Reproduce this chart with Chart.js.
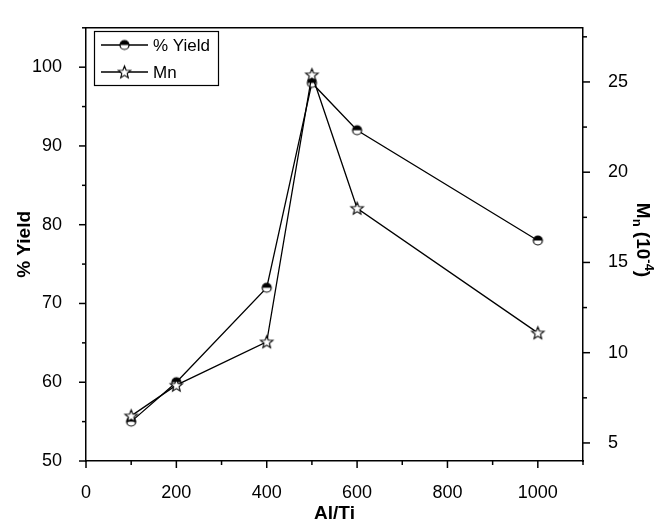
<!DOCTYPE html>
<html><head><meta charset="utf-8">
<script src="https://cdn.jsdelivr.net/npm/chart.js@4/dist/chart.umd.min.js"></script>
<style>html,body{margin:0;padding:0;background:#fff;} #wrap{width:659px;height:524px;position:relative}</style>
</head><body><div id="wrap"><canvas id="c" width="659" height="524"></canvas></div>
<script>
// ---- data ----
const alTi = [100, 200, 400, 500, 600, 1000];
const yieldPct = [55, 60, 72, 98, 92, 78];
const mn = [6.5, 8.2, 10.6, 25.4, 18, 11.1];
// ---- tick labels ----
const xTicks = [0, 200, 400, 600, 800, 1000];
const xMinor = [100, 300, 500, 700, 900, 1100];
const yTicks = [50, 60, 70, 80, 90, 100];
const yMinor = [55, 65, 75, 85, 95, 105];
const y2Ticks = [5, 10, 15, 20, 25];
const y2Minor = [7.5, 12.5, 17.5, 22.5, 27.5];

const FONT = '"Liberation Sans", Arial, Helvetica, sans-serif';

function makeHalfCircle(r) {
  const s = Math.ceil(2 * r + 4);
  const cv = document.createElement('canvas');
  cv.width = s; cv.height = s;
  const c = cv.getContext('2d');
  const cx = s / 2, cy = s / 2;
  c.beginPath(); c.arc(cx, cy, r, 0, 2 * Math.PI); c.fillStyle = '#fff'; c.fill();
  c.beginPath(); c.arc(cx, cy, r, Math.PI, 2 * Math.PI); c.closePath(); c.fillStyle = '#000'; c.fill();
  c.beginPath(); c.arc(cx, cy, r, 0, 2 * Math.PI); c.lineWidth = 1.2; c.strokeStyle = '#000'; c.stroke();
  return cv;
}
function makeStar(R, r) {
  const s = Math.ceil(2 * R + 4);
  const cv = document.createElement('canvas');
  cv.width = s; cv.height = s;
  const c = cv.getContext('2d');
  const cx = s / 2, cy = s / 2 + 0.5;
  c.beginPath();
  for (let i = 0; i < 10; i++) {
    const a = -Math.PI / 2 + i * Math.PI / 5;
    const rr = i % 2 === 0 ? R : r;
    const px = cx + rr * Math.cos(a), py = cy + rr * Math.sin(a);
    if (i === 0) c.moveTo(px, py); else c.lineTo(px, py);
  }
  c.closePath();
  c.fillStyle = '#fff'; c.fill();
  c.lineWidth = 1.1; c.strokeStyle = '#000'; c.stroke();
  return cv;
}
const circleImg = makeHalfCircle(4.5);
const starImg = makeStar(6.5, 2.8);

const decor = {
  id: 'decor',
  afterDraw(chart) {
    const ctx = chart.ctx;
    const {left, right, top, bottom} = chart.chartArea;
    const sx = chart.scales.x, sy = chart.scales.y, sy2 = chart.scales.y2;
    ctx.save();
    ctx.strokeStyle = '#000';
    ctx.lineWidth = 1.5;
    ctx.beginPath(); ctx.moveTo(left, top); ctx.lineTo(right, top); ctx.stroke();
    const tick = (x1, y1, x2, y2) => { ctx.beginPath(); ctx.moveTo(x1, y1); ctx.lineTo(x2, y2); ctx.stroke(); };
    xTicks.forEach(v => { const p = sx.getPixelForValue(v); tick(p, bottom, p, bottom + 7); });
    xMinor.forEach(v => { const p = sx.getPixelForValue(v); tick(p, bottom, p, bottom + 4); });
    yTicks.forEach(v => { const p = sy.getPixelForValue(v); tick(left, p, left - 7, p); });
    yMinor.forEach(v => { const p = sy.getPixelForValue(v); tick(left, p, left - 4, p); });
    y2Ticks.forEach(v => { const p = sy2.getPixelForValue(v); tick(right, p, right + 7, p); });
    y2Minor.forEach(v => { const p = sy2.getPixelForValue(v); tick(right, p, right + 4, p); });

    ctx.fillStyle = '#000';
    ctx.font = 'bold 19px ' + FONT;
    ctx.textAlign = 'center'; ctx.textBaseline = 'middle';
    ctx.fillText('Al/Ti', (left + right) / 2, 514);
    ctx.save();
    ctx.translate(25, (top + bottom) / 2); ctx.rotate(-Math.PI / 2);
    ctx.fillText('% Yield', 0, 0);
    ctx.restore();
    ctx.save();
    ctx.translate(642, 240); ctx.rotate(Math.PI / 2);
    const parts = [
      {t: 'M', f: 'bold 19px ', dy: 0},
      {t: 'n', f: 'bold 13px ', dy: 5},
      {t: ' (10', f: 'bold 19px ', dy: 0},
      {t: '-4', f: 'bold 13px ', dy: -7},
      {t: ')', f: 'bold 19px ', dy: 0}
    ];
    let total = 0;
    parts.forEach(p => { ctx.font = p.f + FONT; p.w = ctx.measureText(p.t).width; total += p.w; });
    let cx = -total / 2;
    ctx.textAlign = 'left';
    parts.forEach(p => { ctx.font = p.f + FONT; ctx.fillText(p.t, cx, p.dy); cx += p.w; });
    ctx.restore();

    ctx.lineWidth = 1.2;
    ctx.strokeRect(94.5, 31.5, 124, 54);
    const rows = [{label: '% Yield', img: circleImg, y: 45}, {label: 'Mn', img: starImg, y: 72}];
    ctx.font = '17px ' + FONT;
    ctx.textAlign = 'left'; ctx.textBaseline = 'middle';
    rows.forEach(r => {
      ctx.lineWidth = 1.3;
      tick(101, r.y, 148, r.y);
      ctx.drawImage(r.img, 124.5 - r.img.width / 2, r.y - r.img.height / 2);
      ctx.fillText(r.label, 153, r.y + 1);
    });
    ctx.restore();
  }
};

const tickFont = {family: FONT, size: 18};
const plain = v => String(v);
new Chart(document.getElementById('c'), {
  type: 'line',
  data: {
    datasets: [
      {label: '% Yield', data: alTi.map((x, i) => ({x, y: yieldPct[i]})), yAxisID: 'y',
       borderColor: '#000', backgroundColor: '#000', borderWidth: 1.3, pointStyle: circleImg,
       pointRadius: 5, tension: 0, fill: false, order: 1},
      {label: 'Mn', data: alTi.map((x, i) => ({x, y: mn[i]})), yAxisID: 'y2',
       borderColor: '#000', backgroundColor: '#000', borderWidth: 1.3, pointStyle: starImg,
       pointRadius: 6, tension: 0, fill: false, order: 0}
    ]
  },
  options: {
    responsive: false, animation: false, devicePixelRatio: 1,
    layout: {padding: {top: 13, left: 0, right: 0, bottom: 0}},
    plugins: {legend: {display: false}, tooltip: {enabled: false}},
    scales: {
      x: {type: 'linear', min: 0, max: 1100,
          afterBuildTicks: s => { s.ticks = xTicks.map(v => ({value: v})); },
          afterFit: s => { s.height = 63; },
          grid: {display: false}, border: {display: true, color: '#000', width: 1.5},
          ticks: {color: '#000', font: tickFont, padding: 13, maxRotation: 0, autoSkip: false, callback: plain}},
      y: {type: 'linear', position: 'left', min: 50, max: 105,
          afterBuildTicks: s => { s.ticks = yTicks.map(v => ({value: v})); },
          afterFit: s => { s.width = 86; },
          grid: {display: false}, border: {display: true, color: '#000', width: 1.5},
          ticks: {color: '#000', font: tickFont, padding: 16, autoSkip: false, callback: plain}},
      y2: {type: 'linear', position: 'right', min: 4, max: 28,
          afterBuildTicks: s => { s.ticks = y2Ticks.map(v => ({value: v})); },
          afterFit: s => { s.width = 76; },
          grid: {display: false}, border: {display: true, color: '#000', width: 1.5},
          ticks: {color: '#000', font: tickFont, padding: 17, autoSkip: false, callback: plain}}
    }
  },
  plugins: [decor]
});
</script></body></html>
